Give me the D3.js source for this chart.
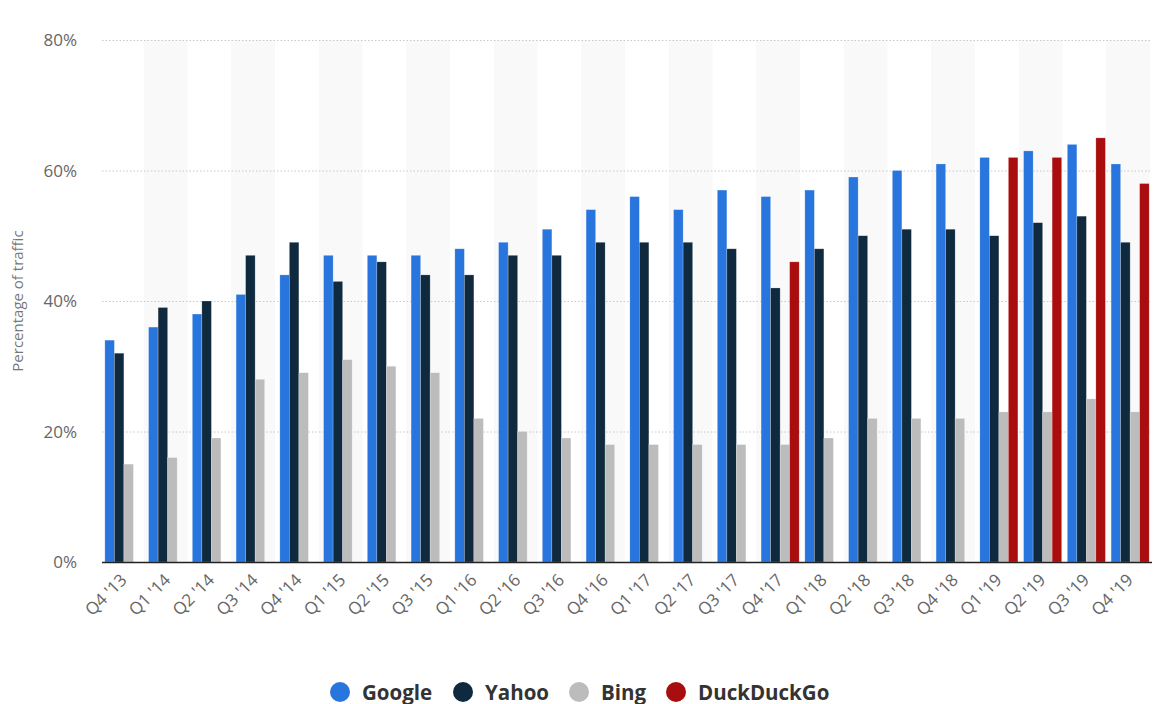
<!DOCTYPE html>
<html>
<head>
<meta charset="utf-8">
<script src="https://cdn.jsdelivr.net/npm/d3@7"></script>
<style>
  body { margin: 0; background: #fff; font-family: "Open Sans", "Noto Sans", sans-serif; }
</style>
</head>
<body>
<svg id="chart"></svg>
<script>
var quarters = ["Q4 '13", "Q1 '14", "Q2 '14", "Q3 '14", "Q4 '14", "Q1 '15", "Q2 '15", "Q3 '15",
    "Q1 '16", "Q2 '16", "Q3 '16", "Q4 '16", "Q1 '17", "Q2 '17", "Q3 '17", "Q4 '17",
    "Q1 '18", "Q2 '18", "Q3 '18", "Q4 '18", "Q1 '19", "Q2 '19", "Q3 '19", "Q4 '19"];
var series = ["Google", "Yahoo", "Bing", "DuckDuckGo"];
var google = [34, 36, 38, 41, 44, 47, 47, 47, 48, 49, 51, 54, 56, 54, 57, 56, 57, 59, 60, 61, 62, 63, 64, 61];
var yahoo = [32, 39, 40, 47, 49, 43, 46, 44, 44, 47, 47, 49, 49, 49, 48, 42, 48, 50, 51, 51, 50, 52, 53, 49];
var bing = [15, 16, 19, 28, 29, 31, 30, 29, 22, 20, 19, 18, 18, 18, 18, 18, 19, 22, 22, 22, 23, 23, 25, 23];
var duckduckgo = [null, null, null, null, null, null, null, null, null, null, null, null,
    null, null, null, 46, null, null, null, null, 62, 62, 65, 58];
var yTicks = [0, 20, 40, 60, 80];
var colors = ["#2876dd", "#0f2a3f", "#bcbcbc", "#a90d0d"];

var chart = {
    width: 1163,
    height: 704,
    margin: { left: 102, right: 11, top: 40, bottom: 142 },

    init: function() {
        this.svg = d3.select('#chart')
            .attr('width', this.width)
            .attr('height', this.height);
        this.x = d3.scaleBand()
            .domain(quarters)
            .range([this.margin.left, this.width - this.margin.right]);
        // four slots per quarter, empty slot left when a series has no value
        this.xs = d3.scaleBand()
            .domain(series)
            .range([0, this.x.bandwidth()])
            .paddingOuter(0.3);
        this.y = d3.scaleLinear()
            .domain([0, 80])
            .range([this.height - this.margin.bottom, this.margin.top]);
    },

    draw: function() {
        var self = this;
        var svg = this.svg;
        var values = [google, yahoo, bing, duckduckgo];
        var rows = [];
        quarters.forEach(function(q, i) {
            series.forEach(function(s, j) {
                if (values[j][i] != null) rows.push({ q: q, s: s, j: j, v: values[j][i] });
            });
        });

        // alternating background bands
        svg.append('g').selectAll('rect')
            .data(quarters.filter(function(d, i) { return i % 2 === 1; }))
            .enter().append('rect')
            .attr('x', function(d) { return self.x(d) - 2; })
            .attr('y', this.y(80))
            .attr('width', this.x.bandwidth())
            .attr('height', this.y(0) - this.y(80))
            .attr('fill', '#f9f9f9');

        // grid lines
        svg.append('g').selectAll('line')
            .data(yTicks.filter(function(d) { return d > 0; }))
            .enter().append('line')
            .attr('x1', this.margin.left)
            .attr('x2', this.width - this.margin.right)
            .attr('y1', function(d) { return self.y(d) + 0.5; })
            .attr('y2', function(d) { return self.y(d) + 0.5; })
            .attr('stroke', '#c8c8c8')
            .attr('stroke-dasharray', '1.5,2');

        // y axis labels
        svg.append('g').selectAll('text')
            .data(yTicks)
            .enter().append('text')
            .attr('x', 77)
            .attr('y', function(d) { return self.y(d) + 6; })
            .attr('text-anchor', 'end')
            .attr('fill', '#666')
            .style('font-size', '17px')
            .text(function(d) { return d + '%'; });

        svg.append('text')
            .attr('transform', 'translate(23,' + ((this.y(0) + this.y(80)) / 2) + ') rotate(-90)')
            .attr('text-anchor', 'middle')
            .attr('fill', '#777')
            .style('font-size', '15px')
            .text('Percentage of traffic');

        // bars
        svg.append('g').selectAll('rect')
            .data(rows)
            .enter().append('rect')
            .attr('x', function(d) { return self.x(d.q) + self.xs(d.s); })
            .attr('y', function(d) { return self.y(d.v); })
            .attr('width', this.xs.bandwidth())
            .attr('height', function(d) { return self.y(0) - self.y(d.v); })
            .attr('fill', function(d) { return colors[d.j]; })
            .attr('stroke', 'rgba(255,255,255,0.35)')
            .attr('stroke-width', 0.6);

        // x axis line
        svg.append('line')
            .attr('x1', this.margin.left)
            .attr('x2', this.width - this.margin.right)
            .attr('y1', this.y(0) + 0.5)
            .attr('y2', this.y(0) + 0.5)
            .attr('stroke', '#222')
            .attr('stroke-width', 1.3);

        // x labels
        svg.append('g').selectAll('text')
            .data(quarters)
            .enter().append('text')
            .attr('transform', function(d) {
                return 'translate(' + (self.x(d) + self.x.bandwidth() / 2 + 4) + ',' + (self.y(0) + 19) + ') rotate(-45)';
            })
            .attr('text-anchor', 'end')
            .attr('fill', '#666')
            .style('font-size', '17px')
            .text(function(d) { return d; });

        // legend
        var legendX = [340, 463, 579, 676];
        var lg = svg.append('g').selectAll('g')
            .data(series)
            .enter().append('g')
            .attr('transform', function(d, i) { return 'translate(' + legendX[i] + ',692)'; });
        lg.append('circle')
            .attr('r', 10)
            .attr('fill', function(d, i) { return colors[i]; });
        lg.append('text')
            .attr('x', 22)
            .attr('y', 7.5)
            .attr('fill', '#333')
            .style('font-size', '20.5px')
            .style('font-weight', 'bold')
            .text(function(d) { return d; });
    }
};

chart.init();
chart.draw();
</script>
</body>
</html>
